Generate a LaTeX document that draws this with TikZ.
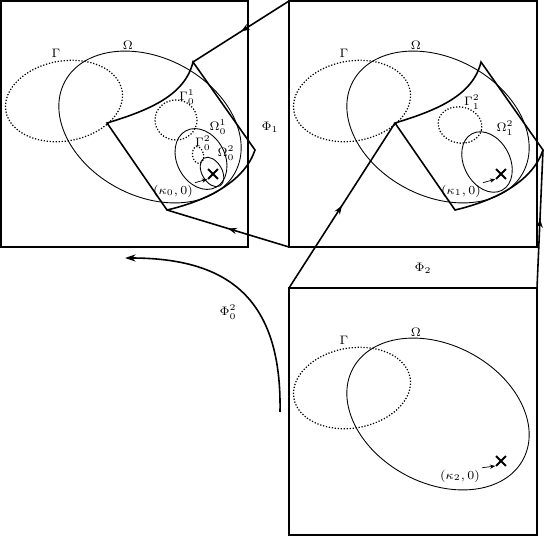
\documentclass[tikz,border=0pt]{standalone}
\usetikzlibrary{arrows.meta,decorations.markings,shapes.misc}
\newcommand\domainfig[2]{%
  \draw[dotell] (64,101) circle [x radius=59, y radius=40, rotate=10];
  \draw[ell] (150,127) circle [x radius=96.5, y radius=69, rotate=-28];
  \node[lab] (Gam#1) at (56,53) {$\Gamma$};
  \node[lab] (Om#1) at (128,45) {$\Omega$};
  \node[xmark] (X#1) at (213,174) {};
  \node[lab] (K#1) at (#2) {$(\kappa_{#1},0)$};
  \draw[smallarrow] (K#1.north east) -- (X#1.south west);
}
\newcommand\quadfig[1]{%
  \coordinate (QA#1) at (107,123);
  \coordinate (QB#1) at (193,62);
  \coordinate (QC#1) at (255,150);
  \coordinate (QD#1) at (167,210);
  \draw[box] (QA#1) .. controls (150,110) and (185,95) .. (QB#1) -- (QC#1)
     .. controls (245,180) and (210,200) .. (QD#1) -- cycle;
}
\begin{document}
\begin{tikzpicture}[x=0.02cm,y=-0.02cm,
  box/.style={line width=0.9pt, line join=miter},
  conn/.style={line width=0.9pt, postaction={decorate},
    decoration={markings, mark=at position 0.5 with {\arrow{Stealth[length=5pt,width=3.6pt]}}}},
  ell/.style={line width=0.5pt},
  dotell/.style={line width=0.7pt, densely dotted},
  lab/.style={font=\fontsize{7.5}{9}\selectfont, inner sep=1pt},
  xmark/.style={cross out, draw, line width=1.1pt, minimum size=4.5pt, inner sep=0pt},
  smallarrow/.style={-{Stealth[length=3pt,width=2.4pt]}, line width=0.4pt, shorten >=0.5pt}
]
\useasboundingbox (0,0) rectangle (544,537);

% frames
\coordinate (B1nw) at (1,1);
\coordinate (B1se) at (248,247);
\coordinate (B2nw) at (289,1);
\coordinate (B2sw) at (289,247);
\coordinate (B2se) at (537,247);
\coordinate (B3nw) at (289,288);
\coordinate (B3ne) at (537,288);
\coordinate (B3se) at (537,535);
\draw[box] (B1nw) rectangle (B1se);
\draw[box] (B2nw) rectangle (B2se);
\draw[box] (B3nw) rectangle (B3se);

% box 1
\begin{scope}
  \domainfig{0}{173,191}
  \quadfig{1}
  \draw[dotell] (176,120) circle [x radius=21, y radius=20];
  \node[lab] (G01) at (187,97) {$\Gamma_0^1$};
  \draw[ell] (201,159) circle [x radius=24, y radius=32, rotate=28];
  \node[lab] (O01) at (218,127) {$\Omega_0^1$};
  \draw[dotell] (198,155) circle [x radius=5.5, y radius=8.5, rotate=10];
  \node[lab] (G02) at (203,143) {$\Gamma_0^2$};
  \draw[ell] (212,172) circle [x radius=10, y radius=16, rotate=30];
  \node[lab] (O02) at (226,153) {$\Omega_0^2$};
\end{scope}

% box 2
\begin{scope}[shift={(288,0)}]
  \domainfig{1}{173,191}
  \quadfig{2}
  \draw[dotell] (172,125) circle [x radius=22, y radius=18, rotate=-12];
  \node[lab] (G12) at (184,102) {$\Gamma_1^2$};
  \draw[ell] (199,162) circle [x radius=23, y radius=32, rotate=28];
  \node[lab] (O12) at (217,128) {$\Omega_1^2$};
\end{scope}

% box 3
\begin{scope}[shift={(288,287)}]
  \domainfig{2}{172,189}
\end{scope}

% connectors
\draw[conn] (B2nw) -- (QB1);
\draw[conn] (B2sw) -- (QD1);
\draw[conn] (B3nw) -- (QA2);
\draw[conn] (B3ne) -- (QC2);

\node[lab] (Phi1) at (270,127) {$\Phi_1$};
\node[lab] (Phi2) at (423,268) {$\Phi_2$};
\node[lab] (Phi02) at (228,312) {$\Phi_0^2$};

\coordinate (P0s) at (280,412);
\coordinate (P0e) at (125,258);
\draw[line width=0.9pt, -{Stealth[length=6pt,width=4pt]}] (P0s) .. controls (282,300) and (230,258) .. (P0e);
\end{tikzpicture}
\end{document}
